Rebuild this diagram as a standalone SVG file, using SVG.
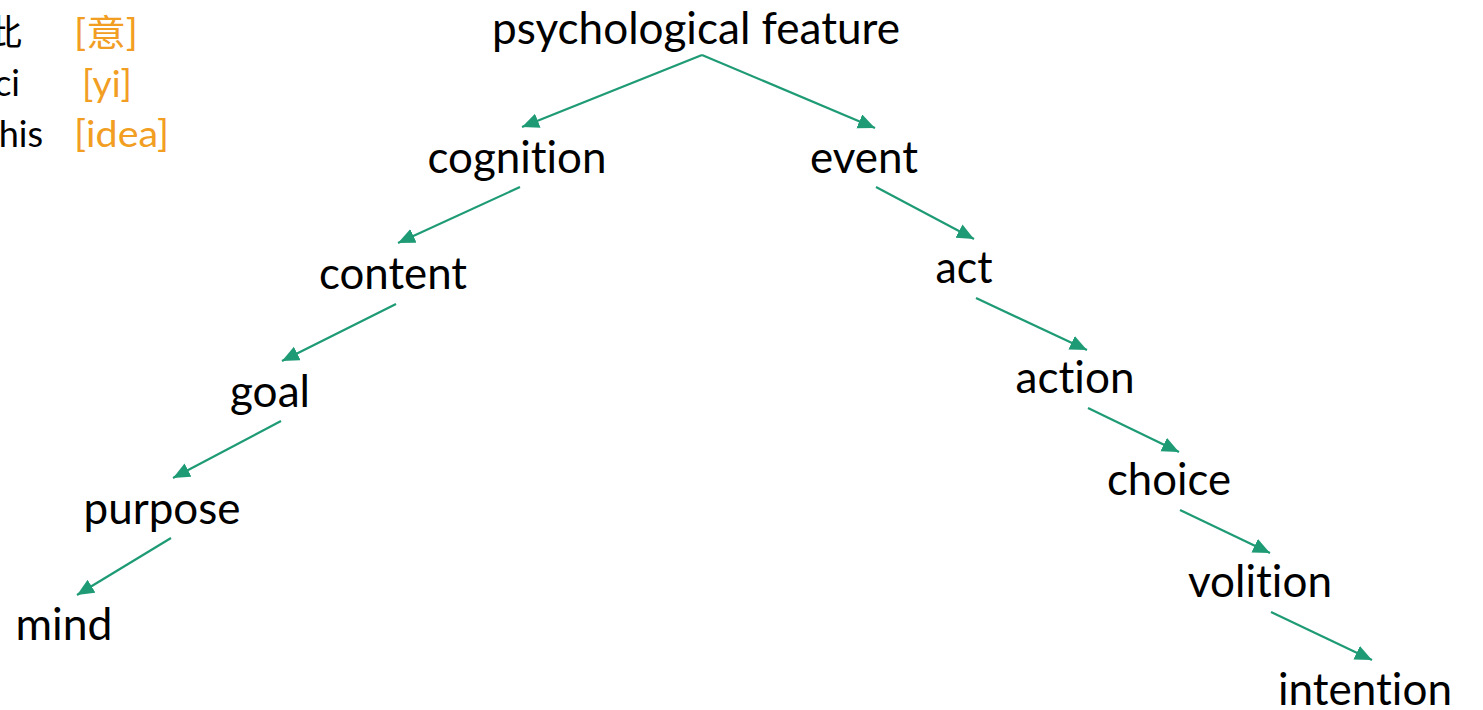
<svg xmlns="http://www.w3.org/2000/svg" width="1483" height="710" viewBox="0 0 1483 710">
<defs>
<style>
text{font-variant-ligatures:none;font-feature-settings:"liga" 0,"clig" 0}
.n{font-family:Lato,"Open Sans","Liberation Sans",sans-serif;font-size:44px;fill:#000;text-anchor:middle}
.k{font-family:Lato,"Open Sans","Liberation Sans","Noto Sans CJK SC",sans-serif;font-size:36px;fill:#000;text-anchor:end}
.o{font-family:Lato,"Open Sans","Liberation Sans","Noto Sans CJK SC",sans-serif;font-size:36px;fill:#F19E22}
.e{stroke:#1E9B75;stroke-width:2.2;fill:none;marker-end:url(#ah)}
</style>
<marker id="ah" markerUnits="userSpaceOnUse" markerWidth="18" markerHeight="16" refX="17" refY="7.5" orient="auto">
<path d="M0,0 L17,7.5 L0,15 z" fill="#1E9B75"/>
</marker>
</defs>
<rect width="1483" height="710" fill="#fff"/>
<g id="legend">
<text class="k" x="22" y="46">此</text>
<text class="k" x="20" y="96">ci</text>
<text class="k" x="43" y="147">this</text>
<text class="o" x="74" y="46" textLength="64" lengthAdjust="spacingAndGlyphs">[意]</text>
<text class="o" x="82" y="97" textLength="50" lengthAdjust="spacingAndGlyphs">[yi]</text>
<text class="o" x="74" y="147" textLength="95" lengthAdjust="spacingAndGlyphs">[idea]</text>
</g>
<g id="connectors">
<line class="e" x1="702" y1="55" x2="522" y2="127"/>
<line class="e" x1="702" y1="55" x2="875" y2="128"/>
<line class="e" x1="520" y1="187" x2="398" y2="243"/>
<line class="e" x1="876" y1="187" x2="974" y2="239"/>
<line class="e" x1="396" y1="304" x2="282" y2="361"/>
<line class="e" x1="976" y1="298" x2="1087" y2="350"/>
<line class="e" x1="281" y1="421" x2="173" y2="478"/>
<line class="e" x1="1088" y1="408" x2="1179" y2="452"/>
<line class="e" x1="171" y1="538" x2="77" y2="595"/>
<line class="e" x1="1180" y1="510" x2="1270" y2="553"/>
<line class="e" x1="1271" y1="612" x2="1372" y2="660"/>
</g>
<g id="psychological-feature"><text class="n" x="696" y="44" textLength="408" lengthAdjust="spacingAndGlyphs">psychological feature</text></g>
<g id="cognition"><text class="n" x="517" y="173" textLength="179" lengthAdjust="spacingAndGlyphs">cognition</text></g>
<g id="event"><text class="n" x="864" y="173" textLength="108" lengthAdjust="spacingAndGlyphs">event</text></g>
<g id="content"><text class="n" x="393" y="289" textLength="148" lengthAdjust="spacingAndGlyphs">content</text></g>
<g id="act"><text class="n" x="964" y="283" textLength="57" lengthAdjust="spacingAndGlyphs">act</text></g>
<g id="goal"><text class="n" x="270" y="407" textLength="80" lengthAdjust="spacingAndGlyphs">goal</text></g>
<g id="action"><text class="n" x="1075" y="393" textLength="119" lengthAdjust="spacingAndGlyphs">action</text></g>
<g id="purpose"><text class="n" x="162" y="524" textLength="157" lengthAdjust="spacingAndGlyphs">purpose</text></g>
<g id="choice"><text class="n" x="1169" y="495" textLength="124" lengthAdjust="spacingAndGlyphs">choice</text></g>
<g id="mind"><text class="n" x="64" y="640" textLength="97" lengthAdjust="spacingAndGlyphs">mind</text></g>
<g id="volition"><text class="n" x="1260" y="597" textLength="144" lengthAdjust="spacingAndGlyphs">volition</text></g>
<g id="intention"><text class="n" x="1365" y="705" textLength="174" lengthAdjust="spacingAndGlyphs">intention</text></g>
</svg>
